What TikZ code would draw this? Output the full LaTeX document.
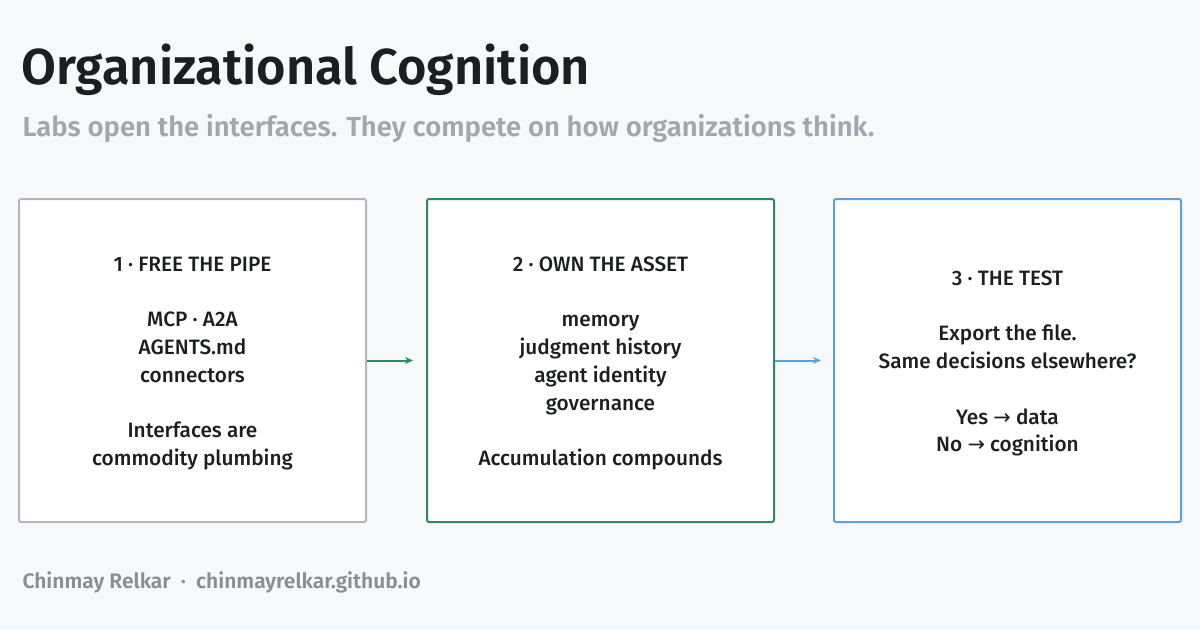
\documentclass[tikz,border=0pt]{standalone}
\usepackage{fontspec}
\setmainfont{Fira Sans}
\newfontfamily\med{Fira Sans Medium}
\newfontfamily\semi{Fira Sans SemiBold}
\newfontfamily\arrowfont{DejaVu Sans}
\newcommand{\rarr}{{\arrowfont →}}
\usetikzlibrary{arrows.meta}
\definecolor{bg}{HTML}{F7F8FA}
\definecolor{ink}{HTML}{1C1E21}
\definecolor{sub}{HTML}{A3A7AD}
\definecolor{bgray}{HTML}{B3B6BB}
\definecolor{bgreen}{HTML}{2A8A62}
\definecolor{bblue}{HTML}{5AA2DC}
\begin{document}
\begin{tikzpicture}[x=1pt,y=-1pt,
  box/.style={draw=#1,line width=2pt,fill=white,rounded corners=2pt,minimum width=347pt,minimum height=323pt,inner sep=0},
  body/.style={text=ink,align=center,font=\fontsize{20.8}{27.8}\selectfont\med,inner sep=0},
  arr/.style={draw=#1,line width=2pt,-{Stealth[length=8pt,width=7pt]}}]
\fill[bg] (0,0) rectangle (1200,630);
\useasboundingbox (0,0) rectangle (1200,630);
\node[anchor=west,text=ink,font=\fontsize{50.5}{56}\selectfont\semi] (title) at (18,70) {Organizational Cognition};
\node[anchor=west,text=sub,font=\fontsize{27.5}{30}\selectfont\semi] (sub) at (19,128) {Labs open the interfaces. They compete on how organizations think.};
\node[box=bgray] (b1) at (192.5,360.5) {};
\node[box=bgreen] (b2) at (600.5,360.5) {};
\node[box=bblue] (b3) at (1007.5,360.5) {};
\node[body] (t1) at ([yshift=-3pt]b1.center) {1 · FREE THE PIPE\\[27.8pt]MCP · A2A\\AGENTS.md\\connectors\\[27.8pt]Interfaces are\\commodity plumbing};
\node[body] (t2) at ([yshift=-3pt]b2.center) {2 · OWN THE ASSET\\[27.8pt]memory\\judgment history\\agent identity\\governance\\[27.8pt]Accumulation compounds};
\node[body] (t3) at ([yshift=-3pt]b3.center) {3 · THE TEST\\[27.8pt]Export the file.\\Same decisions elsewhere?\\[27.8pt]Yes \rarr{} data\\No \rarr{} cognition};
\draw[arr=bgreen] (b1.east) -- ([xshift=-13pt]b2.west);
\draw[arr=bblue] (b2.east) -- ([xshift=-12pt]b3.west);
\node[anchor=west,text=sub!85!black,font=\fontsize{21}{24}\selectfont\semi] (foot) at (19,582) {Chinmay Relkar \ · \ chinmayrelkar.github.io};
\end{tikzpicture}
\end{document}
